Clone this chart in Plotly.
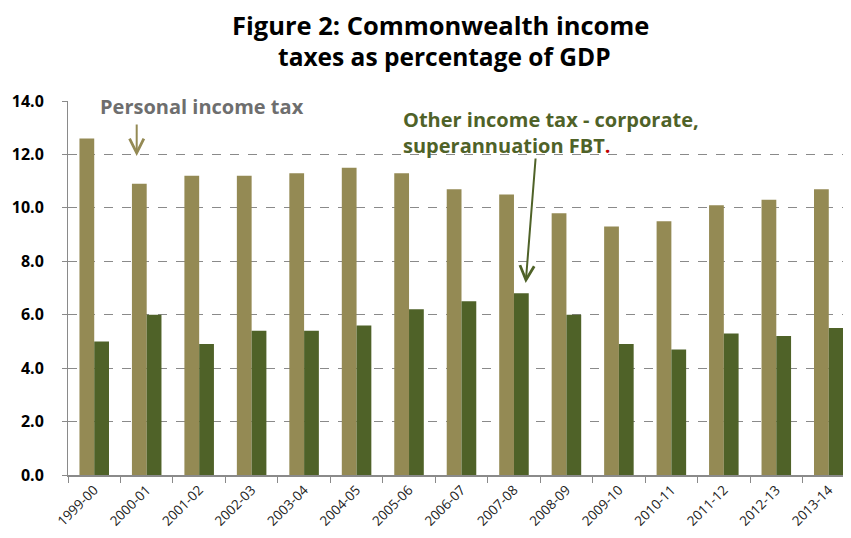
import plotly.graph_objects as go

years = ["1999-00", "2000-01", "2001-02", "2002-03", "2003-04", "2004-05", "2005-06",
         "2006-07", "2007-08", "2008-09", "2009-10", "2010-11", "2011-12", "2012-13", "2013-14"]
personal_tax = [12.6, 10.9, 11.2, 11.2, 11.3, 11.5, 11.3, 10.7, 10.5, 9.8, 9.3, 9.5, 10.1, 10.3, 10.7]
other_tax = [5.0, 6.0, 4.9, 5.4, 5.4, 5.6, 6.2, 6.5, 6.8, 6.0, 4.9, 4.7, 5.3, 5.2, 5.5]
y_ticks = [0, 2, 4, 6, 8, 10, 12, 14]

TAN = "#948A54"
GREEN = "#4F6228"
FONT = "Open Sans"

# page body has an 8px default margin; plot area target: x 68..855, y 101..475
fig = go.Figure()
fig.add_trace(go.Bar(x=years, y=personal_tax, name="Personal income tax",
                     marker=dict(color=TAN, line=dict(width=0))))
fig.add_trace(go.Bar(x=years, y=other_tax, name="Other income tax",
                     marker=dict(color=GREEN, line=dict(width=0))))

fig.update_layout(
    width=851, height=538,
    margin=dict(l=60, r=4, t=93, b=71, autoexpand=False),
    paper_bgcolor="white", plot_bgcolor="white",
    barmode="group", bargap=0.437, bargroupgap=0,
    showlegend=False,
    font=dict(family=FONT, color="#000"),
)
fig.update_yaxes(range=[0, 14], tickvals=y_ticks, tickformat=".1f", automargin=False,
                 tickfont=dict(family=FONT, size=16, color="#000", weight="bold"),
                 showgrid=True, gridcolor="#8a8a8a", griddash="dash", gridwidth=1,
                 showline=True, linecolor="#8a8a8a", linewidth=1,
                 ticks="outside", ticklen=5, tickcolor="#8a8a8a", ticklabelstandoff=15,
                 zeroline=False)
fig.update_xaxes(type="category", tickangle=-45, automargin=False,
                 tickfont=dict(family=FONT, size=13.5, color="#222"),
                 showline=True, linecolor="#8a8a8a", linewidth=1.5,
                 ticks="outside", tickson="boundaries", ticklen=6, tickcolor="#8a8a8a")

PX0, PW = 68, 787   # plot area left / width (reference pixels)
PY0, PH = 475, 374  # plot area bottom / height


def px(x):
    return (x - PX0) / PW


def py(y):
    return (PY0 - y) / PH


# Title (two centred lines)
fig.add_annotation(xref="paper", yref="paper", x=px(440), y=py(25),
                   text="<b>Figure 2: Commonwealth income</b>", showarrow=False,
                   xanchor="center", yanchor="middle",
                   font=dict(family=FONT, size=25.5, color="#000"))
fig.add_annotation(xref="paper", yref="paper", x=px(444), y=py(57),
                   text="<b>taxes as percentage of GDP</b>", showarrow=False,
                   xanchor="center", yanchor="middle",
                   font=dict(family=FONT, size=24.5, color="#000"))

fig.add_annotation(xref="paper", yref="paper", x=px(98), y=py(107), xanchor="left", yanchor="middle",
                   text="<b>Personal income tax</b>", showarrow=False,
                   font=dict(family=FONT, size=20, color="#6E6E6E"))
fig.add_annotation(xref="paper", yref="paper", x=px(136.7), y=py(156), ax=0, ay=-33,
                   text="", showarrow=True, arrowhead=5, arrowsize=1.4, arrowwidth=2,
                   arrowcolor=TAN)
fig.add_annotation(xref="paper", yref="paper", x=px(401), y=py(132), xanchor="left", yanchor="middle",
                   align="left",
                   text="<b>Other income tax - corporate,<br>superannuation FBT<span style='color:#C00000'>.</span></b>",
                   showarrow=False, font=dict(family=FONT, size=20, color=GREEN))
fig.add_annotation(xref="paper", yref="paper", x=px(525.7), y=py(283), ax=10, ay=-126,
                   text="", showarrow=True, arrowhead=5, arrowsize=1.4, arrowwidth=2,
                   arrowcolor=GREEN)

fig.write_html("out.html")
